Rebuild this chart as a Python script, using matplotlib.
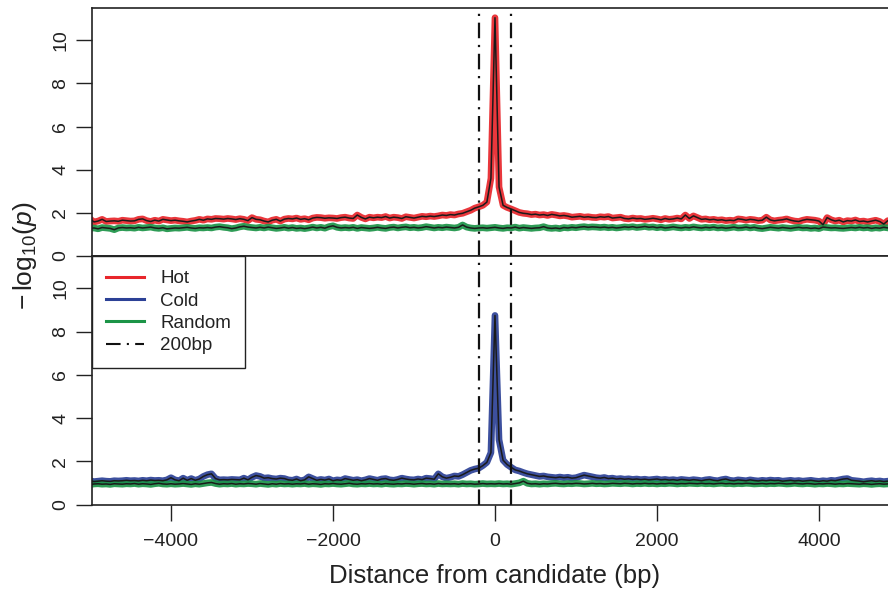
import numpy as np
import matplotlib
matplotlib.use('Agg')
import matplotlib.pyplot as plt
from matplotlib.lines import Line2D

plt.rcParams['font.family'] = ['Liberation Sans', 'DejaVu Sans']
plt.rcParams['mathtext.fontset'] = 'custom'
plt.rcParams['mathtext.rm'] = 'Liberation Sans'
plt.rcParams['mathtext.it'] = 'Liberation Sans:italic'

# bin centres (bp from candidate), 50bp bins
pos = np.arange(-5000, 5001, 50)

hot = [
    1.72, 1.58, 1.62, 1.70, 1.60, 1.62, 1.63, 1.61, 1.66, 1.64,
    1.62, 1.63, 1.70, 1.72, 1.64, 1.60, 1.66, 1.62, 1.70, 1.67,
    1.64, 1.66, 1.63, 1.61, 1.58, 1.62, 1.65, 1.70, 1.66, 1.72,
    1.70, 1.74, 1.73, 1.71, 1.74, 1.72, 1.69, 1.73, 1.70, 1.64,
    1.78, 1.70, 1.68, 1.62, 1.58, 1.66, 1.70, 1.62, 1.71, 1.74,
    1.72, 1.76, 1.70, 1.73, 1.68, 1.76, 1.79, 1.78, 1.75, 1.77,
    1.76, 1.74, 1.78, 1.80, 1.76, 1.74, 1.90, 1.79, 1.72, 1.80,
    1.77, 1.80, 1.78, 1.83, 1.76, 1.80, 1.78, 1.74, 1.82, 1.79,
    1.76, 1.80, 1.84, 1.82, 1.85, 1.83, 1.86, 1.90, 1.88, 1.92,
    1.90, 1.95, 1.98, 2.05, 2.12, 2.22, 2.28, 2.35, 2.50, 3.60,
    11.05,
    3.20, 2.35, 2.25, 2.18, 2.10, 2.02, 1.98, 1.96, 1.92, 1.94,
    1.90, 1.92, 1.88, 1.93, 1.90, 1.86, 1.88, 1.85, 1.80, 1.82,
    1.84, 1.80, 1.82, 1.79, 1.78, 1.82, 1.80, 1.83, 1.76, 1.78,
    1.80, 1.74, 1.72, 1.76, 1.73, 1.74, 1.70, 1.72, 1.75, 1.72,
    1.68, 1.74, 1.70, 1.72, 1.76, 1.72, 1.90, 1.74, 1.86, 1.78,
    1.70, 1.72, 1.68, 1.70, 1.66, 1.68, 1.64, 1.66, 1.64, 1.72,
    1.70, 1.66, 1.70, 1.68, 1.64, 1.66, 1.80, 1.67, 1.63, 1.66,
    1.68, 1.72, 1.66, 1.62, 1.60, 1.66, 1.70, 1.68, 1.66, 1.62,
    1.45, 1.78, 1.68, 1.62, 1.66, 1.58, 1.64, 1.62, 1.67, 1.60,
    1.62, 1.58, 1.62, 1.66, 1.60, 1.48, 1.64, 1.60, 1.62, 1.58,
]

random_top = [
    1.28, 1.30, 1.26, 1.32, 1.30, 1.28, 1.22, 1.30, 1.32, 1.30,
    1.31, 1.29, 1.33, 1.30, 1.32, 1.34, 1.30, 1.28, 1.31, 1.26,
    1.28, 1.30, 1.29, 1.31, 1.33, 1.30, 1.28, 1.31, 1.30, 1.32,
    1.30, 1.34, 1.36, 1.33, 1.31, 1.27, 1.30, 1.35, 1.38, 1.34,
    1.32, 1.30, 1.33, 1.30, 1.34, 1.31, 1.28, 1.30, 1.33, 1.29,
    1.32, 1.28, 1.30, 1.27, 1.30, 1.34, 1.30, 1.33, 1.29, 1.36,
    1.40, 1.33, 1.30, 1.32, 1.30, 1.33, 1.28, 1.32, 1.30, 1.28,
    1.30, 1.33, 1.30, 1.28, 1.32, 1.34, 1.30, 1.33, 1.35, 1.31,
    1.33, 1.30, 1.32, 1.36, 1.33, 1.30, 1.33, 1.31, 1.34, 1.32,
    1.30, 1.33, 1.44, 1.34, 1.30, 1.28, 1.30, 1.31, 1.29, 1.31,
    1.33,
    1.30, 1.28, 1.31, 1.30, 1.34, 1.29, 1.32, 1.30, 1.28, 1.30,
    1.31, 1.36, 1.30, 1.28, 1.30, 1.27, 1.32, 1.30, 1.33, 1.31,
    1.34, 1.36, 1.33, 1.35, 1.34, 1.32, 1.34, 1.31, 1.33, 1.30,
    1.32, 1.35, 1.33, 1.36, 1.32, 1.34, 1.37, 1.33, 1.35, 1.31,
    1.34, 1.30, 1.32, 1.35, 1.32, 1.30, 1.33, 1.31, 1.35, 1.32,
    1.30, 1.33, 1.31, 1.34, 1.30, 1.32, 1.29, 1.31, 1.34, 1.30,
    1.31, 1.34, 1.30, 1.33, 1.29, 1.27, 1.30, 1.33, 1.31, 1.29,
    1.32, 1.30, 1.28, 1.31, 1.33, 1.30, 1.31, 1.28, 1.30, 1.27,
    1.34, 1.32, 1.30, 1.31, 1.29, 1.28, 1.30, 1.32, 1.30, 1.33,
    1.30, 1.32, 1.28, 1.31, 1.29, 1.33, 1.30, 1.28, 1.31, 1.30,
]

cold = [
    1.10, 1.06, 1.08, 1.10, 1.08, 1.07, 1.10, 1.09, 1.10, 1.12,
    1.10, 1.11, 1.09, 1.12, 1.10, 1.13, 1.11, 1.12, 1.10, 1.14,
    1.24, 1.14, 1.10, 1.22, 1.12, 1.20, 1.12, 1.18, 1.30, 1.38,
    1.42, 1.20, 1.14, 1.15, 1.14, 1.16, 1.15, 1.14, 1.22, 1.14,
    1.26, 1.34, 1.30, 1.22, 1.24, 1.20, 1.18, 1.22, 1.20, 1.14,
    1.12, 1.18, 1.10, 1.14, 1.28, 1.20, 1.12, 1.16, 1.13, 1.18,
    1.10, 1.14, 1.12, 1.20, 1.16, 1.12, 1.15, 1.10, 1.14, 1.20,
    1.16, 1.12, 1.18, 1.20, 1.14, 1.12, 1.16, 1.22, 1.18, 1.15,
    1.14, 1.18, 1.15, 1.22, 1.20, 1.17, 1.42, 1.28, 1.22, 1.26,
    1.32, 1.30, 1.38, 1.48, 1.58, 1.64, 1.68, 1.80, 1.95, 2.40,
    8.75,
    3.00, 2.05, 1.85, 1.72, 1.60, 1.55, 1.48, 1.42, 1.38, 1.34,
    1.30, 1.32, 1.28, 1.26, 1.24, 1.27, 1.24, 1.26, 1.22, 1.24,
    1.30, 1.36, 1.32, 1.28, 1.24, 1.22, 1.25, 1.20, 1.22, 1.18,
    1.20, 1.17, 1.19, 1.16, 1.18, 1.15, 1.17, 1.14, 1.16, 1.18,
    1.14, 1.16, 1.13, 1.15, 1.12, 1.16, 1.14, 1.12, 1.15, 1.13,
    1.10, 1.14, 1.16, 1.12, 1.10, 1.15, 1.18, 1.12, 1.10, 1.14,
    1.12, 1.10, 1.14, 1.11, 1.09, 1.12, 1.10, 1.13, 1.11, 1.12,
    1.08, 1.10, 1.12, 1.09, 1.11, 1.08, 1.10, 1.12, 1.09, 1.07,
    1.10, 1.08, 1.12, 1.10, 1.14, 1.18, 1.20, 1.12, 1.10, 1.08,
    1.05, 1.08, 1.10, 1.07, 1.09, 1.06, 1.08, 1.10, 1.12, 1.09,
]

random_bottom = [
    0.92, 0.95, 0.96, 0.94, 0.95, 0.93, 0.96, 0.95, 0.94, 0.96,
    0.95, 0.97, 0.94, 0.96, 0.95, 0.93, 0.96, 0.98, 0.95, 0.94,
    0.96, 0.94, 0.95, 0.97, 0.95, 0.93, 0.96, 0.94, 0.97, 1.00,
    1.02, 0.97, 0.94, 0.96, 0.95, 0.97, 0.94, 0.96, 0.95, 0.97,
    0.96, 0.94, 0.97, 0.95, 0.93, 0.96, 0.94, 0.97, 0.95, 0.96,
    0.94, 0.96, 0.95, 0.97, 0.94, 0.96, 0.95, 0.93, 0.96, 0.95,
    0.97, 0.95, 0.94, 0.96, 0.98, 0.95, 0.94, 0.96, 0.95, 0.97,
    0.95, 0.96, 0.94, 0.97, 0.95, 0.94, 0.96, 0.95, 0.97, 0.96,
    0.94, 0.96, 0.97, 0.95, 0.96, 0.94, 0.97, 0.95, 0.96, 0.95,
    0.96, 0.94, 0.97, 0.95, 0.96, 0.94, 0.95, 0.97, 0.95, 0.96,
    0.95,
    0.97, 0.95, 0.96, 0.94, 0.97, 1.00, 1.08, 0.98, 0.95, 0.96,
    0.94, 0.96, 0.95, 0.97, 0.98, 0.96, 0.95, 0.97, 0.96, 0.98,
    0.97, 0.95, 0.96, 0.98, 0.96, 0.97, 0.95, 0.96, 0.98, 0.97,
    0.96, 0.98, 0.97, 0.95, 0.97, 0.96, 0.98, 0.96, 0.97, 0.95,
    0.97, 0.96, 0.98, 0.97, 0.95, 0.97, 0.96, 0.98, 0.97, 0.96,
    0.98, 0.96, 0.97, 0.95, 0.97, 0.98, 0.96, 0.97, 0.95, 0.97,
    0.96, 0.98, 0.97, 0.95, 0.96, 0.97, 0.95, 0.97, 0.96, 0.98,
    0.97, 0.95, 0.96, 0.98, 0.96, 0.95, 0.97, 0.96, 0.94, 0.96,
    0.95, 0.97, 0.96, 0.94, 0.96, 0.95, 0.97, 0.96, 0.95, 0.94,
    0.96, 0.95, 0.93, 0.95, 0.96, 0.94, 0.95, 0.97, 0.95, 0.94,
]

xticks = [-4000, -2000, 0, 2000, 4000]
yticks = [0, 2, 4, 6, 8, 10]
window = 200

red = '#e8262b'
blue = '#2c4196'
green = '#1c9447'
dashdot = (0, (7, 3, 1, 3))

fig = plt.figure(figsize=(8.88, 5.90), dpi=100)
ax1 = fig.add_axes([92 / 888, 1 - 256 / 590, 1 - 92 / 888, 248 / 590])
ax2 = fig.add_axes([92 / 888, 1 - 504.5 / 590, 1 - 92 / 888, 248.5 / 590])


def draw_series(ax, y, color):
    ax.plot(pos, y, color=color, lw=4.8, solid_joinstyle='round',
            solid_capstyle='round', alpha=0.92, zorder=2)
    ax.plot(pos, y, color='#1a1a1a', lw=1.1, zorder=3)


draw_series(ax1, hot, red)
draw_series(ax1, random_top, green)
draw_series(ax2, cold, blue)
draw_series(ax2, random_bottom, green)

for ax in (ax1, ax2):
    ax.axvline(-window, color='#111111', lw=1.6, linestyle=dashdot, zorder=4)
    ax.axvline(window, color='#111111', lw=1.6, linestyle=dashdot, zorder=4)
    ax.set_xlim(-4975, 4852)
    ax.set_ylim(0, 11.5)
    ax.set_yticks(yticks)
    ax.spines['right'].set_visible(False)
    for s in ('left', 'top', 'bottom'):
        ax.spines[s].set_linewidth(1.2)
        ax.spines[s].set_color('#222222')
    ax.tick_params(axis='y', length=11.5, width=1.0, pad=5,
                   labelsize=14, colors='#222222')
    for lab in ax.get_yticklabels():
        lab.set_rotation(90)
        lab.set_va('center')

ax1.set_xticks([])
ax2.set_xticks(xticks)
ax2.set_xticklabels(['\u2212%d' % -v if v < 0 else str(v) for v in xticks])
ax2.tick_params(axis='x', length=11.5, width=1.0, pad=9,
                labelsize=14, colors='#222222')

handles = [
    Line2D([], [], color=red, lw=2.2),
    Line2D([], [], color=blue, lw=2.2),
    Line2D([], [], color=green, lw=2.2),
    Line2D([], [], color='#111111', lw=1.5, linestyle=dashdot),
]
leg = ax2.legend(handles, ['Hot', 'Cold', 'Random', '200bp'],
                 loc='upper left', bbox_to_anchor=(0, 1), borderaxespad=0,
                 fancybox=False, edgecolor='#222222', framealpha=1,
                 fontsize=13.5, handlelength=2.0, handletextpad=0.9,
                 labelspacing=0.28, borderpad=0.75)
leg.get_frame().set_linewidth(1.0)
for t in leg.get_texts():
    t.set_color('#222222')

fig.text(25 / 888, 1 - 256 / 590, r'$-\,\mathrm{log}_{10}(p)$', rotation=90,
         ha='center', va='center', fontsize=19, color='#222222')
fig.text(495 / 888, 1 - 583 / 590, 'Distance from candidate (bp)',
         ha='center', va='baseline', fontsize=18.5, color='#222222')

fig.savefig('out.png', dpi=100)
